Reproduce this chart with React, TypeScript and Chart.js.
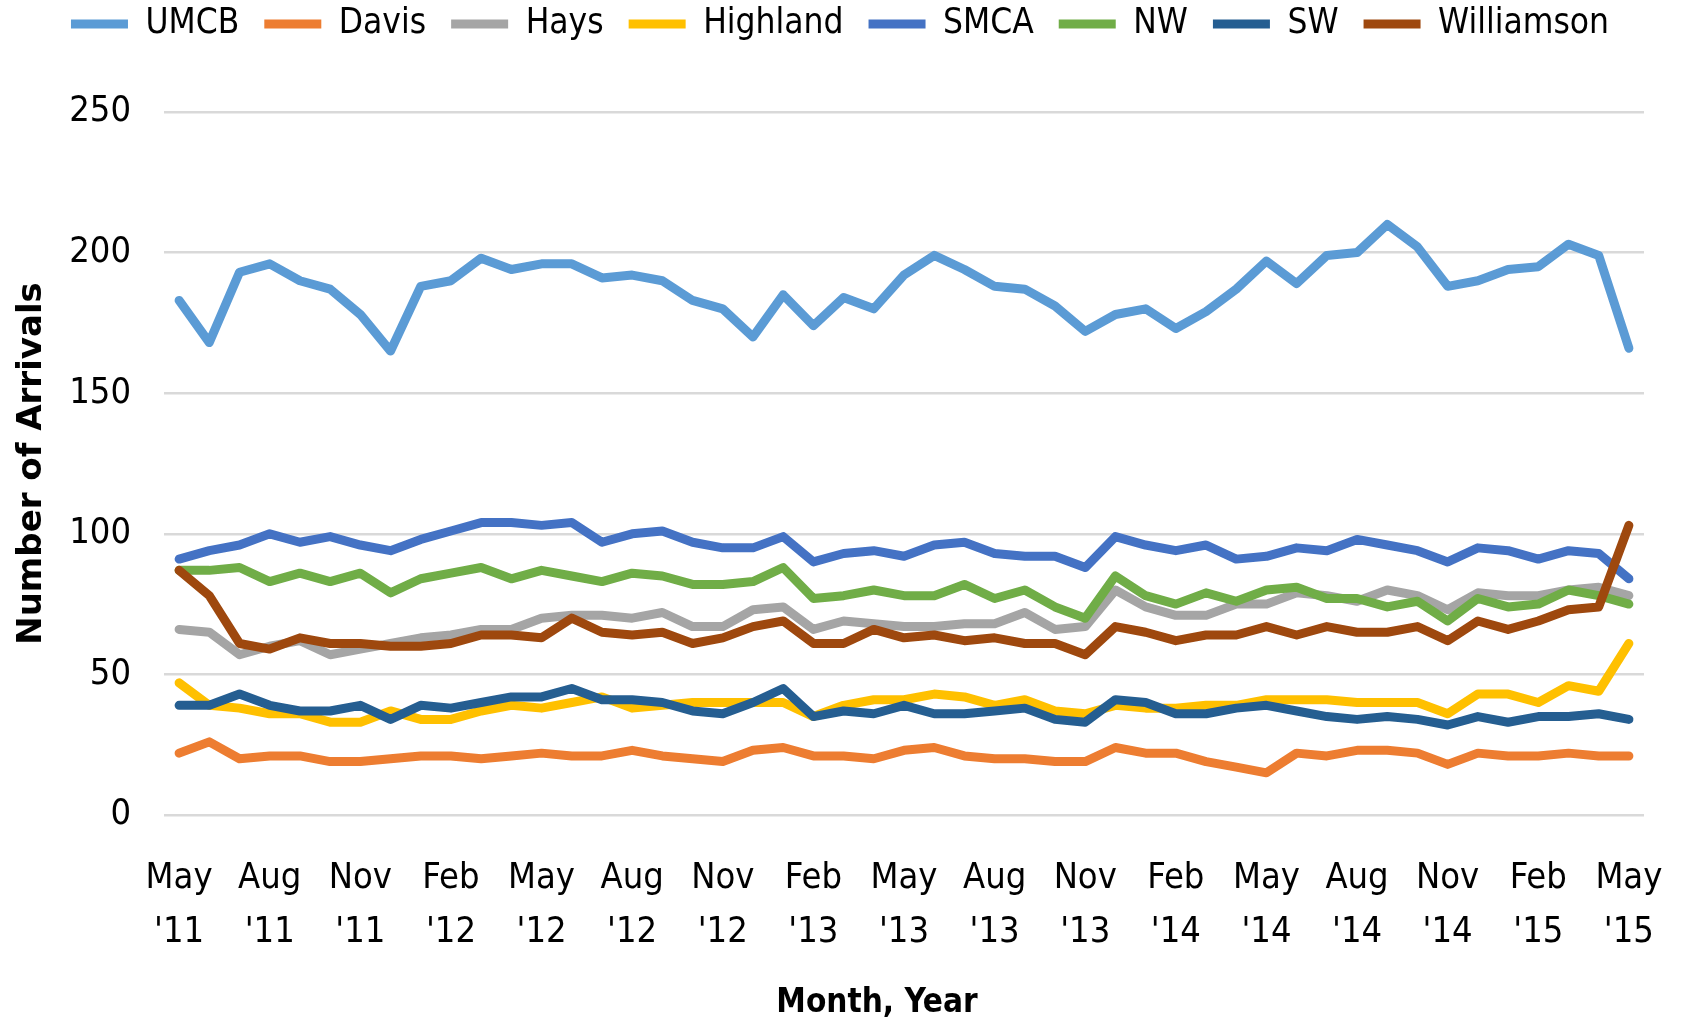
import React, { useEffect, useRef } from 'react';
import { Chart, registerables } from 'chart.js';

Chart.register(...registerables);

const categories = [
  "May '11", "Jun '11", "Jul '11", "Aug '11", "Sep '11", "Oct '11", "Nov '11", "Dec '11",
  "Jan '12", "Feb '12", "Mar '12", "Apr '12", "May '12", "Jun '12", "Jul '12", "Aug '12",
  "Sep '12", "Oct '12", "Nov '12", "Dec '12", "Jan '13", "Feb '13", "Mar '13", "Apr '13",
  "May '13", "Jun '13", "Jul '13", "Aug '13", "Sep '13", "Oct '13", "Nov '13", "Dec '13",
  "Jan '14", "Feb '14", "Mar '14", "Apr '14", "May '14", "Jun '14", "Jul '14", "Aug '14",
  "Sep '14", "Oct '14", "Nov '14", "Dec '14", "Jan '15", "Feb '15", "Mar '15", "Apr '15",
  "May '15",
];

const seriesNames = ['UMCB', 'Davis', 'Hays', 'Highland', 'SMCA', 'NW', 'SW', 'Williamson'];
const seriesColors = ['#5B9BD5', '#ED7D31', '#A5A5A5', '#FFC000', '#4472C4', '#70AD47', '#255E91', '#9E480E'];

const umcb = [183, 168, 193, 196, 190, 187, 178, 165, 188, 190, 198, 194, 196, 196, 191, 192, 190, 183, 180, 170, 185, 174, 184, 180, 192, 199, 194, 188, 187, 181, 172, 178, 180, 173, 179, 187, 197, 189, 199, 200, 210, 202, 188, 190, 194, 195, 203, 199, 166];
const davis = [22, 26, 20, 21, 21, 19, 19, 20, 21, 21, 20, 21, 22, 21, 21, 23, 21, 20, 19, 23, 24, 21, 21, 20, 23, 24, 21, 20, 20, 19, 19, 24, 22, 22, 19, 17, 15, 22, 21, 23, 23, 22, 18, 22, 21, 21, 22, 21, 21];
const hays = [66, 65, 57, 60, 62, 57, 59, 61, 63, 64, 66, 66, 70, 71, 71, 70, 72, 67, 67, 73, 74, 66, 69, 68, 67, 67, 68, 68, 72, 66, 67, 80, 74, 71, 71, 75, 75, 79, 78, 76, 80, 78, 73, 79, 78, 78, 80, 81, 78];
const highland = [47, 39, 38, 36, 36, 33, 33, 37, 34, 34, 37, 39, 38, 40, 42, 38, 39, 40, 40, 40, 40, 35, 39, 41, 41, 43, 42, 39, 41, 37, 36, 39, 38, 38, 39, 39, 41, 41, 41, 40, 40, 40, 36, 43, 43, 40, 46, 44, 61];
const smca = [91, 94, 96, 100, 97, 99, 96, 94, 98, 101, 104, 104, 103, 104, 97, 100, 101, 97, 95, 95, 99, 90, 93, 94, 92, 96, 97, 93, 92, 92, 88, 99, 96, 94, 96, 91, 92, 95, 94, 98, 96, 94, 90, 95, 94, 91, 94, 93, 84];
const nw = [87, 87, 88, 83, 86, 83, 86, 79, 84, 86, 88, 84, 87, 85, 83, 86, 85, 82, 82, 83, 88, 77, 78, 80, 78, 78, 82, 77, 80, 74, 70, 85, 78, 75, 79, 76, 80, 81, 77, 77, 74, 76, 69, 77, 74, 75, 80, 78, 75];
const sw = [39, 39, 43, 39, 37, 37, 39, 34, 39, 38, 40, 42, 42, 45, 41, 41, 40, 37, 36, 40, 45, 35, 37, 36, 39, 36, 36, 37, 38, 34, 33, 41, 40, 36, 36, 38, 39, 37, 35, 34, 35, 34, 32, 35, 33, 35, 35, 36, 34];
const williamson = [87, 78, 61, 59, 63, 61, 61, 60, 60, 61, 64, 64, 63, 70, 65, 64, 65, 61, 63, 67, 69, 61, 61, 66, 63, 64, 62, 63, 61, 61, 57, 67, 65, 62, 64, 64, 67, 64, 67, 65, 65, 67, 62, 69, 66, 69, 73, 74, 103];

const yTicks = [0, 50, 100, 150, 200, 250];

const FONT = "'DejaVu Sans Condensed', 'DejaVu Sans', 'Liberation Sans', sans-serif";
const FONT_WIDE = "'DejaVu Sans', 'Liberation Sans', sans-serif";

export default function App() {
  const canvasRef = useRef<HTMLCanvasElement>(null);

  useEffect(() => {
    const canvas = canvasRef.current;
    if (!canvas) return;
    const values = [umcb, davis, hays, highland, smca, nw, sw, williamson];
    const datasets = seriesNames.map((name, i) => ({
      label: name,
      data: values[i],
      borderColor: seriesColors[i],
      backgroundColor: seriesColors[i],
      borderWidth: 9,
      pointRadius: 0,
      pointHoverRadius: 0,
      pointStyle: 'line',
      tension: 0,
      fill: false,
      borderCapStyle: 'round',
      borderJoinStyle: 'round',
      order: seriesNames.length - i,
    }));

    const legendTop = -18.5;
    const legendHeight = 130.5;
    const xTitleShift = -27;

    const layoutPlugin = {
      id: 'layoutTweaks',
      afterInit(chart: any) {
        const legend = chart.legend;
        if (legend) {
          const origFit = legend.fit;
          legend.fit = function () {
            origFit.call(this);
            this.height = legendHeight;
          };
        }
      },
      afterLayout(chart: any) {
        const legend = chart.legend;
        if (legend) {
          legend.top = legendTop;
          legend.bottom = legendTop + legend.height;
          legend.left = 0;
          legend.right = 1680;
          legend.width = 1680;
        }
        const xs = chart.scales.x;
        if (xs && !xs.__titleShifted) {
          const origDrawTitle = xs.drawTitle;
          xs.drawTitle = function () {
            const l = this.left;
            const r = this.right;
            this.left = l + xTitleShift;
            this.right = r + xTitleShift;
            try {
              origDrawTitle.call(this);
            } finally {
              this.left = l;
              this.right = r;
            }
          };
          xs.__titleShifted = true;
        }
      },
    };

    const chart = new Chart(canvas, {
      type: 'line',
      data: { labels: categories, datasets: datasets as any },
      options: {
        animation: false,
        responsive: false,
        devicePixelRatio: 1,
        layout: { padding: { left: 0, right: 39, top: legendTop, bottom: 0 } },
        plugins: {
          legend: {
            display: true,
            position: 'top',
            align: 'center',
            labels: {
              usePointStyle: true,
              pointStyleWidth: 57,
              boxHeight: 9,
              padding: 25,
              color: '#000',
              font: { family: FONT, size: 35 },
              sort: (a: any, b: any) => a.datasetIndex - b.datasetIndex,
            },
          },
          tooltip: { enabled: false },
        },
        scales: {
          x: {
            type: 'category',
            offset: true,
            grid: { display: false, drawTicks: false },
            border: { display: false },
            ticks: {
              autoSkip: false,
              maxRotation: 0,
              minRotation: 0,
              padding: 36.5,
              color: '#000',
              font: { family: FONT, size: 36, lineHeight: 1.5 },
              callback: (_v: any, index: number) =>
                index % 3 === 0 ? categories[index].split(' ') : '',
            },
            title: {
              display: true,
              text: 'Month, Year',
              color: '#000',
              font: { family: FONT, size: 33, weight: 'bold' },
              padding: { top: 0, bottom: 1 },
            },
            afterFit: (scale: any) => {
              scale.height = 209;
              scale.paddingLeft = 0;
              scale.paddingRight = 0;
            },
          },
          y: {
            min: yTicks[0],
            max: yTicks[yTicks.length - 1],
            grid: { color: '#d9d9d9', lineWidth: 2.5, drawTicks: false },
            border: { display: false },
            ticks: {
              stepSize: 50,
              padding: 33,
              color: '#000',
              font: { family: FONT, size: 36 },
            },
            title: {
              display: true,
              text: 'Number of Arrivals',
              color: '#000',
              font: { family: FONT_WIDE, size: 34, weight: 'bold' },
              padding: { top: 12, bottom: 0 },
            },
            afterFit: (scale: any) => {
              scale.width = 164;
            },
          },
        },
      },
      plugins: [layoutPlugin],
    } as any);

    return () => {
      chart.destroy();
    };
  }, []);

  return (
    <div style={{ position: 'absolute', left: 0, top: 0, width: 1683, height: 1024, background: '#fff' }}>
      <canvas ref={canvasRef} width={1683} height={1024} style={{ display: 'block' }} />
    </div>
  );
}
